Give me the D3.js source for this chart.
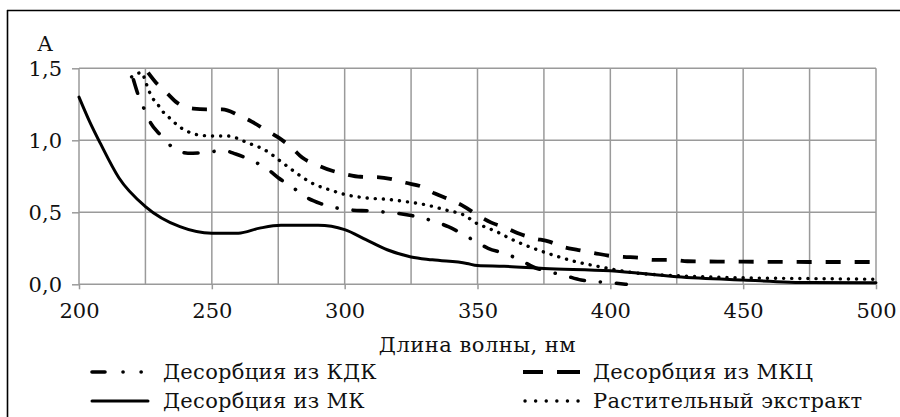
<!DOCTYPE html>
<html><head><meta charset="utf-8">
<script src="https://cdn.jsdelivr.net/npm/d3@7"></script>
<style>body{margin:0;background:#fff}svg{display:block}text{font-family:"DejaVu Serif",serif;fill:#111}</style>
</head><body>
<svg id="c" width="900" height="417"></svg>
<script>
// ---- data ----
const xTicks = [200, 250, 300, 350, 400, 450, 500];
const xGrid = [200,225,250,275,300,325,350,375,400,425,450,475,500];
const yTicks = [0, 0.5, 1.0, 1.5];
const yTickLabels = ["0,0", "0,5", "1,0", "1,5"];

const wlMK  = [200,204,208,215,225,238,250,260,268,276,290,300,308,316,325,333,346,350,360,375,400,425,450,475,500];
const absMK = [1.30,1.13,0.98,0.74,0.54,0.40,0.355,0.355,0.39,0.41,0.41,0.38,0.31,0.24,0.19,0.17,0.145,0.13,0.125,0.11,0.094,0.053,0.03,0.012,0.01];

const wlKDK  = [220.5,222,224,227,230.5,235,241,248,254,259,265,271,275,281,285,291,297,303,309,316,321,327,334,339,344,349,354,360,366,371,377,383,389,395,401,406];
const absKDK = [1.42,1.33,1.24,1.12,1.04,0.955,0.91,0.915,0.93,0.905,0.86,0.80,0.74,0.665,0.61,0.56,0.53,0.515,0.51,0.50,0.49,0.47,0.435,0.40,0.354,0.30,0.25,0.215,0.17,0.12,0.087,0.06,0.03,0.018,0.01,0.0];

const wlMKC  = [226,229,233,237,243,248,254,260,265,270,275,280,284,289.5,295,300,306,312,318,323,329,334,340,345,350,355,361,365,371,377,382,388,394,400,405,411,416,423,429,450,475,500];
const absMKC = [1.47,1.40,1.33,1.26,1.22,1.215,1.215,1.175,1.13,1.075,1.02,0.95,0.88,0.83,0.79,0.766,0.747,0.745,0.73,0.705,0.678,0.63,0.585,0.54,0.48,0.43,0.39,0.356,0.32,0.296,0.26,0.238,0.217,0.197,0.19,0.185,0.17,0.17,0.16,0.157,0.155,0.155];

const wlExt  = [219.8,223.6,225,226,227.4,229.3,231,233,235.5,238.7,242.4,245.6,250.6,256,259.4,262.5,265.6,268.8,271.9,274.4,276.9,279.4,282,288,294.5,301,308,316,323,331,338,345,350,354,358.5,362,371,379,387,396,402,409,425,450,475,500];
const absExt = [1.44,1.47,1.41,1.36,1.30,1.26,1.21,1.175,1.13,1.083,1.05,1.035,1.03,1.03,1.015,0.99,0.967,0.944,0.91,0.875,0.84,0.806,0.77,0.70,0.655,0.62,0.60,0.59,0.574,0.55,0.516,0.48,0.42,0.39,0.354,0.32,0.25,0.20,0.157,0.122,0.10,0.08,0.06,0.045,0.04,0.035];

const seriesNames = ["Десорбция из КДК", "Десорбция из МКЦ", "Десорбция из МК", "Растительный экстракт"];
const xTitle = "Длина волны, нм";
const yTitle = "A";

// ---- styles ----
const FS = 21;
const styles = {
  "Десорбция из КДК": {dash: "14,16,0.1,16", width: 3.6, cap: "round"},
  "Десорбция из МКЦ": {dash: "15,14", width: 3.8, cap: "butt"},
  "Десорбция из МК": {dash: null, width: 3, cap: "round"},
  "Растительный экстракт": {dash: "0.1,8", width: 3.4, cap: "round"}
};
const legendDash = {
  "Десорбция из КДК": "13,18,0.1,18,0.1,100",
  "Десорбция из МКЦ": "20,14,23,100",
  "Десорбция из МК": null,
  "Растительный экстракт": "0.1,10.5"
};

const svg = d3.select("#c");
const x = d3.scaleLinear().domain([200, 500]).range([79, 876]);
const y = d3.scaleLinear().domain([0, 1.5]).range([284.3, 68.3]);

// frame (left + top)
svg.append("line").attr("x1",7.5).attr("x2",7.5).attr("y1",10).attr("y2",417).attr("stroke","#000").attr("stroke-width",1.6);
svg.append("line").attr("x1",7).attr("x2",900).attr("y1",10.5).attr("y2",10.5).attr("stroke","#000").attr("stroke-width",1.6);

// grid
const grid = svg.append("g").attr("stroke","#9a9a9a").attr("stroke-width",1.5);
grid.selectAll(".vx").data(xGrid).join("line")
  .attr("x1",d=>x(d)).attr("x2",d=>x(d)).attr("y1",y(1.5)).attr("y2",y(0));
grid.selectAll(".hy").data(yTicks).join("line")
  .attr("x1",x(200)).attr("x2",x(500)).attr("y1",d=>y(d)).attr("y2",d=>y(d));

// axes via d3
const xAxis = d3.axisBottom(x).tickValues(xTicks).tickSize(5).tickPadding(14).tickFormat(d3.format("d"));
const gx = svg.append("g").attr("transform",`translate(0,${y(0)})`).call(xAxis);
gx.select(".domain").remove();
gx.selectAll(".tick line").attr("stroke","#9a9a9a").attr("stroke-width",1.5);
gx.selectAll(".tick text").attr("font-size",FS).attr("font-family","DejaVu Serif").attr("fill","#111");

const yAxis = d3.axisLeft(y).tickValues(yTicks).tickSize(7).tickPadding(10).tickFormat((d,i)=>yTickLabels[i]);
const gy = svg.append("g").attr("transform",`translate(${x(200)},0)`).call(yAxis);
gy.select(".domain").remove();
gy.selectAll(".tick line").attr("stroke","#9a9a9a").attr("stroke-width",1.5);
gy.selectAll(".tick text").attr("font-size",FS).attr("font-family","DejaVu Serif").attr("fill","#111").attr("dy","0.36em");

svg.append("text").attr("x",45).attr("y",51).attr("text-anchor","middle").attr("font-size",FS).text(yTitle);
svg.append("text").attr("x",(x(200)+x(500))/2).attr("y",352).attr("text-anchor","middle")
  .attr("font-size",FS).attr("letter-spacing",0.5).text(xTitle);

// curves
const series = [
  {name: seriesNames[2], wl: wlMK, a: absMK},
  {name: seriesNames[1], wl: wlMKC, a: absMKC},
  {name: seriesNames[3], wl: wlExt, a: absExt},
  {name: seriesNames[0], wl: wlKDK, a: absKDK}
];
const line = d3.line().x(d=>x(d[0])).y(d=>y(d[1])).curve(d3.curveMonotoneX);
svg.append("g").selectAll("path").data(series).join("path")
  .attr("d", s => line(s.wl.map((w,i)=>[w, s.a[i]])))
  .attr("fill","none").attr("stroke","#000")
  .attr("stroke-width", s=>styles[s.name].width)
  .attr("stroke-linecap", s=>styles[s.name].cap)
  .attr("stroke-linejoin","round")
  .attr("stroke-dasharray", s=>styles[s.name].dash);

// legend
const legendItems = [
  {name: seriesNames[0], sx: 92, ex: 148, tx: 163, y: 372},
  {name: seriesNames[1], sx: 523, ex: 580, tx: 593, y: 372},
  {name: seriesNames[2], sx: 92, ex: 148, tx: 163, y: 401},
  {name: seriesNames[3], sx: 525, ex: 580, tx: 593, y: 401}
];
const lg = svg.append("g");
legendItems.forEach(it => {
  const st = styles[it.name];
  lg.append("line").attr("x1",it.sx).attr("x2",it.ex).attr("y1",it.y).attr("y2",it.y)
    .attr("stroke","#000").attr("stroke-width", st.width)
    .attr("stroke-linecap", st.cap).attr("stroke-dasharray", legendDash[it.name]);
  lg.append("text").attr("x",it.tx).attr("y",it.y).attr("dy","0.35em").attr("font-size",FS)
    .attr("letter-spacing",0.3).text(it.name);
});
</script>
</body></html>
